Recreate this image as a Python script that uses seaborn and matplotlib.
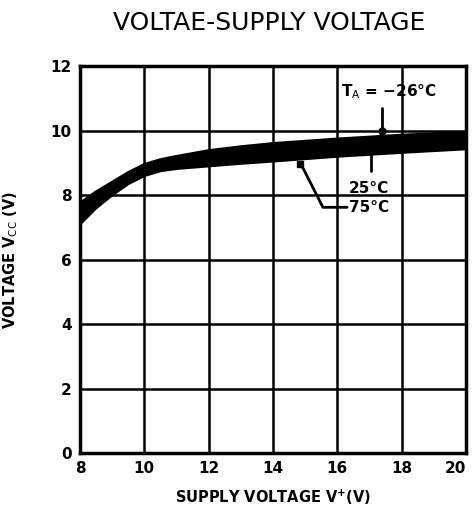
import numpy as np
import pandas as pd
import seaborn as sns
import matplotlib.pyplot as plt
from matplotlib.transforms import ScaledTranslation

# supply voltage (V) and output voltage for each ambient temperature
supply = [8, 8.5, 9, 9.5, 10, 10.5, 11, 12, 13, 14, 16, 18, 20]
vcc_m25 = [7.75, 8.1, 8.4, 8.7, 8.95, 9.1, 9.2, 9.38, 9.5, 9.6, 9.74, 9.86, 9.95]
vcc_25 = [7.45, 7.85, 8.2, 8.5, 8.78, 8.93, 9.02, 9.15, 9.25, 9.33, 9.48, 9.6, 9.7]
vcc_75 = [7.1, 7.6, 8.0, 8.35, 8.6, 8.75, 8.82, 8.9, 8.98, 9.05, 9.2, 9.32, 9.43]
temps = ["-25°C", "25°C", "75°C"]
xticks = [8, 10, 12, 14, 16, 18, 20]
yticks = [0, 2, 4, 6, 8, 10, 12]

df = pd.DataFrame({
    "supply": supply * 3,
    "vcc": vcc_m25 + vcc_25 + vcc_75,
    "temp": np.repeat(temps, len(supply)),
})

sns.set_style("white")
plt.rcParams["font.family"] = ["DejaVu Sans"]
plt.rcParams["mathtext.default"] = "bf"
for key in ["text.color", "axes.labelcolor", "xtick.color", "ytick.color"]:
    plt.rcParams[key] = "black"

fig = plt.figure(figsize=(4.72, 5.16), dpi=100)
ax = fig.add_axes([0.1695, 0.122, 0.818, 0.750])

ax.fill_between(supply, vcc_75, vcc_m25, color="black", lw=0)
sns.lineplot(data=df, x="supply", y="vcc", hue="temp",
             palette=["black"] * 3, linewidth=2, legend=False, ax=ax)

ax.set_xlim(8, 20)
ax.set_ylim(0, 12)
ax.set_xticks(xticks)
ax.set_yticks(yticks)
ax.grid(True, color="black", linewidth=1.8)
ax.set_axisbelow(True)
for s in ax.spines.values():
    s.set_color("black")
    s.set_linewidth(2.5)
ax.tick_params(length=0, labelsize=11, pad=6)
for lab in ax.get_xticklabels() + ax.get_yticklabels():
    lab.set_fontweight("bold")
last = ax.get_xticklabels()[-1]
last.set_transform(last.get_transform() + ScaledTranslation(-8 / 72, 0, fig.dpi_scale_trans))

# annotations
ax.text(16.1, 11.2, "T$_{\\rm A}$ = −26°C", fontsize=11, fontweight="bold",
        va="center")
ax.plot([17.4, 17.4], [10.7, 9.82], color="black", lw=2)
ax.plot([17.4], [9.98], "o", color="black", ms=5)
ax.plot([17.05, 17.05], [9.45, 8.75], color="black", lw=2)
ax.plot([17.05], [9.4], "s", color="black", ms=5)
ax.plot([14.85, 14.95, 15.55, 16.3], [8.95, 8.8, 7.62, 7.62],
        color="black", lw=2)
ax.plot([14.85], [8.95], "s", color="black", ms=5)
ax.text(16.35, 8.2, "25°C", fontsize=11, fontweight="bold", va="center")
ax.text(16.35, 7.62, "75°C", fontsize=11, fontweight="bold", va="center")

ax.set_xlabel("SUPPLY VOLTAGE V$^{+}$(V)", fontsize=10.5, fontweight="bold",
              labelpad=8)
ax.set_ylabel("VOLTAGE V$_{\\rm CC}$ (V)", fontsize=10.5, fontweight="bold",
              labelpad=22)
fig.text(0.57, 0.955, "VOLTAE-SUPPLY VOLTAGE", fontsize=18, ha="center",
         va="center")

fig.savefig("out.png", dpi=100)
